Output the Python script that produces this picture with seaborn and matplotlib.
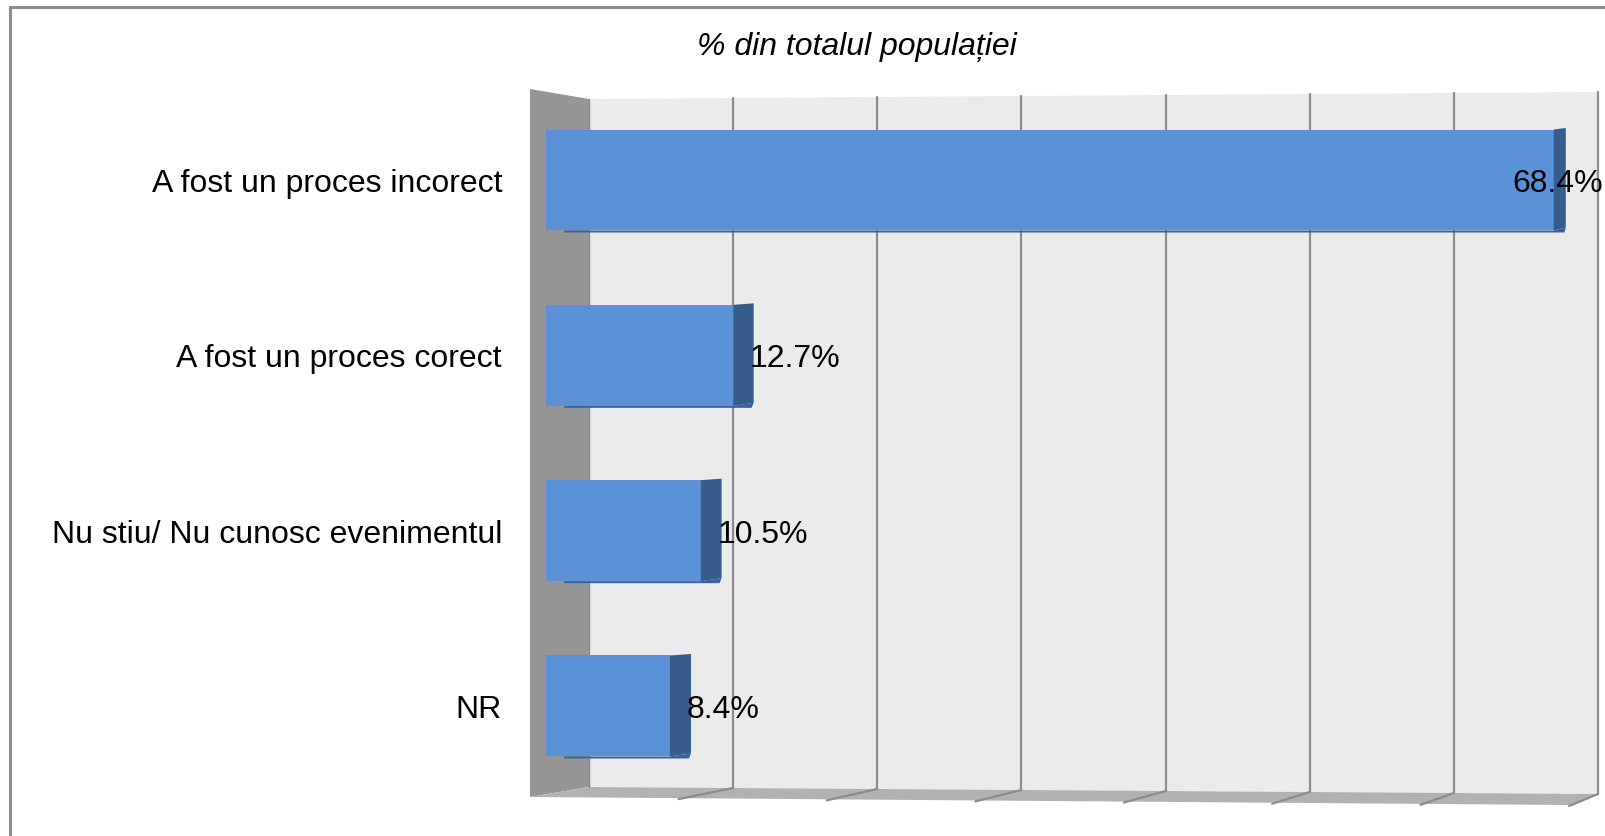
import matplotlib
matplotlib.use("Agg")
import matplotlib.pyplot as plt
from matplotlib.patches import Polygon
import seaborn as sns
import pandas as pd

categories = ["A fost un proces incorect", "A fost un proces corect",
              "Nu stiu/ Nu cunosc evenimentul", "NR"]
values = [68.4, 12.7, 10.5, 8.4]
value_labels = ["68.4%", "12.7%", "10.5%", "8.4%"]
title = "% din totalul populației"

sns.set_theme(style="white")
plt.rcParams['font.family'] = ['Liberation Sans', 'DejaVu Sans']

W, H = 1606, 837
fig = plt.figure(figsize=(W / 100, H / 100), dpi=100)
ax = fig.add_axes([0, 0, 1, 1])

# pixel <-> data helpers (x: value axis, y: category axis)
X0, SX = 546.2, 14.73
Y0, SY = 181.0, 175.33
def X(px):
    return (px - X0) / SX
def Y(py):
    return (py - Y0) / SY

GRID = '#8C8C8C'

# frame (left and top edges visible)
ax.plot([X(10), X(10), X(W)], [Y(H), Y(8), Y(8)], color=GRID, lw=2.2, zorder=0.1,
        solid_joinstyle='miter')

# left side wall
ax.add_patch(Polygon([(X(530), Y(90)), (X(589), Y(100)), (X(589), Y(788)), (X(530), Y(798))],
                     closed=True, facecolor='#969696', edgecolor='none', zorder=0.2))
# back wall
ax.add_patch(Polygon([(X(589), Y(100)), (X(1598), Y(93)), (X(1598), Y(795)), (X(589), Y(788))],
                     closed=True, facecolor='#EBEBEB', edgecolor='none', zorder=0.2))
# floor
ax.add_patch(Polygon([(X(589), Y(788)), (X(1598), Y(795)), (X(1569), Y(806)), (X(530), Y(798))],
                     closed=True, facecolor='#B2B2B2', edgecolor='none', zorder=0.3))
# gridlines on back wall and floor
for k in range(8):
    bx = 589 + (1598 - 589) * k / 7
    ty = 100 + (93 - 100) * k / 7
    by = 788 + (795 - 788) * k / 7
    fx = 530 + (1569 - 530) * k / 7
    fy = 798 + (806 - 798) * k / 7
    if k > 0:
        ax.plot([X(bx), X(bx)], [Y(ty), Y(by)], color=GRID, lw=1.6, zorder=0.4)
        ax.plot([X(bx), X(fx)], [Y(by), Y(fy + 1)], color=GRID, lw=1.6, zorder=0.4)
ax.plot([X(589), X(589)], [Y(100), Y(788)], color='#8A8A8A', lw=1.0, zorder=0.4)

df = pd.DataFrame({"cat": categories, "val": values})
sns.barplot(data=df, x="val", y="cat", orient="h", color="#5A91D7", saturation=1,
            width=0.576, ax=ax, zorder=3, linewidth=0)

bars = list(ax.containers[0])
TXT_DY = 3 / SY
# side faces of the 3D bars
for bar, v, lab in zip(bars, values, value_labels):
    x1 = bar.get_x() + bar.get_width()
    yt = bar.get_y()
    yb = bar.get_y() + bar.get_height()
    if yt > yb:
        yt, yb = yb, yt
    d = (22.3 - 0.15 * v) / SX
    ax.add_patch(Polygon([(x1, yt), (x1 + d, yt - 1.5 / SY), (x1 + d, yb - 3 / SY), (x1, yb)],
                         closed=True, facecolor='#365C8C', edgecolor='none', zorder=3.1))
    # underside sliver
    x0 = bar.get_x()
    ax.add_patch(Polygon([(x0 + 18 / SX, yb), (x1, yb), (x1 + d, yb - 3 / SY),
                          (x1 + d * 0.9, yb + 2 / SY), (x0 + 18 / SX, yb + 2 / SY)],
                         closed=True, facecolor='#3A619A', edgecolor='none', zorder=2.9))
    cy = (yt + yb) / 2 + TXT_DY
    if x1 + d > X(1540):
        ax.text(X(1603), cy, lab, ha='right', va='center',
                fontsize=23, color='black', zorder=5)
    else:
        ax.text(x1 + d - 4 / SX, cy, lab, ha='left', va='center',
                fontsize=23, color='black', zorder=5)

# category labels
for i, c in enumerate(categories):
    ax.text(X(502), i + TXT_DY, c, ha='right', va='center', fontsize=23, color='black')

ax.text(X(857), Y(47), title, ha='center', va='center', fontsize=23,
        style='italic', color='black')

ax.set_xlim(X(0), X(W))
ax.set_ylim(Y(H), Y(0))
ax.axis('off')

fig.savefig("out.png", dpi=100)
